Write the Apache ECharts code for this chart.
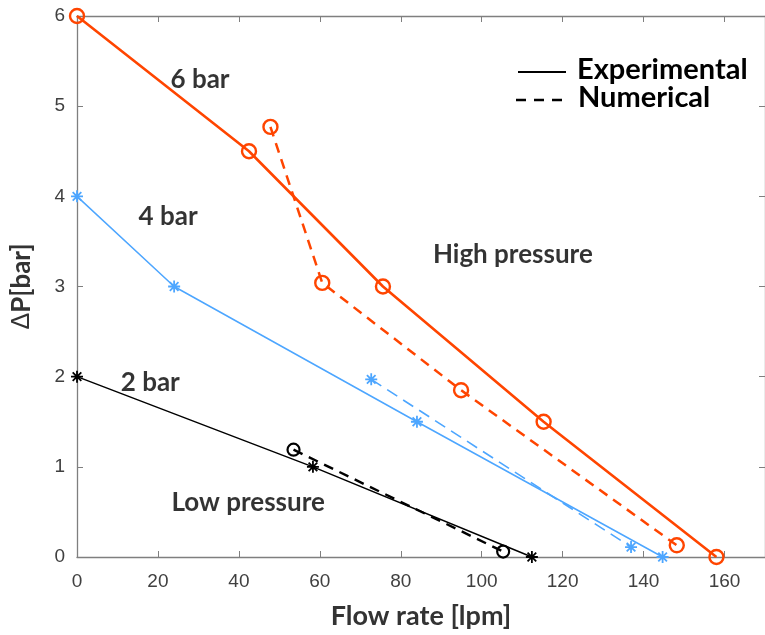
<!DOCTYPE html>
<html>
<head>
<meta charset="utf-8">
<script src="https://cdn.jsdelivr.net/npm/echarts@6/dist/echarts.min.js"></script>
<style>
html,body{margin:0;padding:0;background:#fff;}
#chart{width:765px;height:635px;}
</style>
</head>
<body>
<div id="chart"></div>
<script>
// ---- Data ----
var exp6 = [[0,6],[42.5,4.5],[75.6,3.0],[115.3,1.5],[158,0]];
var num6 = [[47.8,4.77],[60.6,3.04],[94.9,1.85],[148.2,0.13]];
var exp4 = [[0,4],[24,3.0],[84,1.5],[144.7,0]];
var num4 = [[72.7,1.97],[136.9,0.11]];
var exp2 = [[0,2],[58.3,1.0],[112.4,0]];
var num2 = [[53.5,1.19],[105.3,0.06]];
var xTicks = [0,20,40,60,80,100,120,140,160];
var yTicks = [0,1,2,3,4,5,6];
var annotations = [
  {text:'6 bar', x:30.4, y:5.29},
  {text:'4 bar', x:22.5, y:3.78},
  {text:'2 bar', x:18.1, y:1.93},
  {text:'High pressure', x:107.7, y:3.35},
  {text:'Low pressure', x:42.3, y:0.6}
];

var ORANGE = '#ff4500';
var BLUE = '#4da6ff';
var BLACK = '#000000';
var AXIS = '#7f7f7f';
var TXT = '#333333';
var BOLDFONT = 'Lato';

var asterisk = 'path://M0,-5L0,5M-5,0L5,0M-3.6,-3.6L3.6,3.6M-3.6,3.6L3.6,-3.6';

function lineSeries(data, color, width, dashed, symbol, symSize, symW){
  return {
    type:'line', data:data, xAxisIndex:0, yAxisIndex:0,
    symbol:symbol, symbolSize:symSize, showSymbol:true, animation:false,
    lineStyle:{color:color, width:width, type: dashed ? dashed : 'solid'},
    itemStyle:{color: symbol==='circle' ? 'rgba(255,255,255,0)' : color, borderColor:color, borderWidth:symW},
    z: 3
  };
}

var chart = echarts.init(document.getElementById('chart'), null, {renderer:'canvas'});
var option = {
  animation:false,
  backgroundColor:'#fff',
  grid:{left:77, top:16, width:688, height:543, containLabel:false},
  xAxis:[{
    type:'value', min:0, max:170, interval:20, position:'bottom',
    name:'Flow rate [lpm]', nameLocation:'middle', nameGap:46,
    nameTextStyle:{fontFamily:BOLDFONT, fontWeight:'bold', fontSize:27, color:TXT},
    axisLine:{show:true, onZero:false, lineStyle:{color:AXIS, width:1.3}},
    axisTick:{show:true, inside:true, length:6, lineStyle:{color:AXIS}},
    axisLabel:{showMaxLabel:false, fontFamily:'Liberation Sans', fontSize:19, color:'#404040', margin:15,
      formatter:function(v){return xTicks.indexOf(v)>=0 ? String(v) : '';}},
    splitLine:{show:false}
  },{
    type:'value', min:0, max:170, interval:20, position:'top',
    axisLine:{show:true, onZero:false, lineStyle:{color:AXIS, width:1.3}},
    axisTick:{show:true, inside:true, length:6, lineStyle:{color:AXIS}},
    axisLabel:{show:false}, splitLine:{show:false}
  }],
  yAxis:[{
    type:'value', min:0, max:6, interval:1, position:'left',
    name:'{d|Δ}{b|P[bar]}', nameLocation:'middle', nameGap:42, nameRotate:90,
    nameTextStyle:{rich:{
      d:{fontFamily:'Liberation Sans', fontSize:25, color:TXT},
      b:{fontFamily:BOLDFONT, fontWeight:'bold', fontSize:26, color:TXT}
    }},
    axisLine:{show:true, onZero:false, lineStyle:{color:AXIS, width:1.3}},
    axisTick:{show:true, inside:true, length:6, lineStyle:{color:AXIS}},
    axisLabel:{fontFamily:'Liberation Sans', fontSize:19, color:'#404040', margin:12,
      formatter:function(v){return yTicks.indexOf(v)>=0 ? String(v) : '';}},
    splitLine:{show:false}
  },{
    type:'value', min:0, max:6, interval:1, position:'right',
    axisLine:{show:true, onZero:false, lineStyle:{color:AXIS, width:1.3}},
    axisTick:{show:true, inside:true, length:6, lineStyle:{color:AXIS}},
    axisLabel:{show:false}, splitLine:{show:false}
  }],
  series:[
    lineSeries(exp2, BLACK, 1.5, null, asterisk, 12, 1.8),
    lineSeries(num2, BLACK, 2.4, [10,7], 'circle', 12, 2.2),
    lineSeries(exp4, BLUE, 1.5, null, asterisk, 12, 1.8),
    lineSeries(num4, BLUE, 1.6, [12,7], asterisk, 12, 1.8),
    lineSeries(exp6, ORANGE, 2.6, null, 'circle', 14, 2.4),
    lineSeries(num6, ORANGE, 2.5, [10,7], 'circle', 14, 2.4),
    {
      type:'scatter', animation:false, symbolSize:0, silent:true,
      data: annotations.map(function(a){return {value:[a.x,a.y], name:a.text};}),
      label:{show:true, position:'inside', formatter:function(p){return p.name;},
        fontFamily:BOLDFONT, fontWeight:'bold', fontSize:26, color:'#000'},
      z:5
    }
  ],
  graphic:[
    {type:'line', shape:{x1:518, y1:72, x2:566, y2:72}, style:{stroke:'#000', lineWidth:2.2}},
    {type:'text', left:577, top:55, style:{text:'Experimental', fontFamily:BOLDFONT, fontWeight:'bold', fontSize:29, fill:'#000'}},
    {type:'line', shape:{x1:516, y1:100, x2:566, y2:100}, style:{stroke:'#000', lineWidth:2.6, lineDash:[10,8]}},
    {type:'text', left:578, top:83, style:{text:'Numerical', fontFamily:BOLDFONT, fontWeight:'bold', fontSize:29, fill:'#000'}}
  ]
};
chart.setOption(option);
</script>
</body>
</html>
